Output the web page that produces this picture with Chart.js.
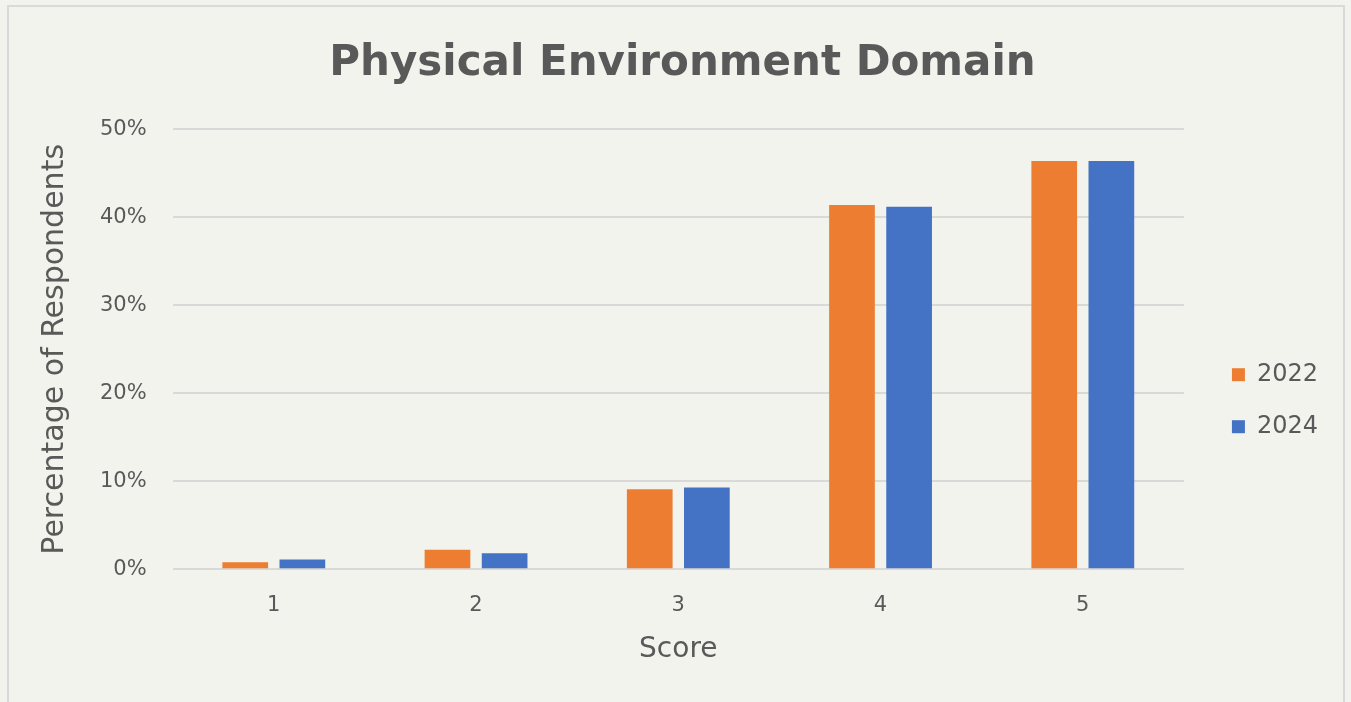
<!DOCTYPE html>
<html>
<head>
<meta charset="utf-8">
<script src="https://cdn.jsdelivr.net/npm/chart.js@4/dist/chart.umd.min.js"></script>
<style>
  html, body { margin: 0; padding: 0; background: #f3f3ee; }
  #frame { position: absolute; left: 7px; top: 5px; width: 1334px; height: 720px; border: 2px solid #d9d9d9; }
  #wrap { position: absolute; left: 0; top: 0; width: 1351px; height: 702px; }
</style>
</head>
<body>
<div id="frame"></div>
<div id="wrap"><canvas id="myChart"></canvas></div>
<script>
const scores = ['1', '2', '3', '4', '5'];
const pct2022 = [0.8, 2.2, 9.1, 41.4, 46.4];
const pct2024 = [1.1, 1.8, 9.3, 41.2, 46.4];
const seriesNames = ['2022', '2024'];

const grey = '#595959';
const font = '"DejaVu Sans", sans-serif';

new Chart('myChart', {
  type: 'bar',
  data: {
    labels: scores,
    datasets: [{
      label: seriesNames[0],
      data: pct2022,
      backgroundColor: '#ed7d31'
    }, {
      label: seriesNames[1],
      data: pct2024,
      backgroundColor: '#4472c4'
    }]
  },
  options: {
    responsive: true,
    maintainAspectRatio: false,
    animation: false,
    categoryPercentage: 0.565,
    barPercentage: 0.8,
    layout: { padding: { left: 37, right: 23, top: 0, bottom: 35 } },
    plugins: {
      title: {
        display: true,
        text: 'Physical Environment Domain',
        color: grey,
        font: { family: font, size: 42, weight: 'bold' },
        padding: { top: 39, bottom: 40 }
      },
      legend: {
        position: 'right',
        // empty title just pushes the legend items down a bit
        title: { display: true, text: '', font: { size: 12 }, padding: { top: 0, bottom: 120 } },
        labels: {
          color: grey,
          boxWidth: 13,
          boxHeight: 13,
          padding: 28,
          font: { family: font, size: 24, lineHeight: 1 }
        }
      },
      tooltip: { enabled: false }
    },
    scales: {
      x: {
        grid: { display: false, drawTicks: false },
        border: { display: false },
        ticks: { color: grey, padding: 24, font: { family: font, size: 21 } },
        title: {
          display: true,
          text: 'Score',
          color: grey,
          padding: { top: -9, bottom: 0 },
          font: { family: font, size: 28 }
        }
      },
      y: {
        min: 0,
        max: 50,
        ticks: {
          stepSize: 10,
          color: grey,
          padding: 26,
          font: { family: font, size: 21 },
          callback: v => v + '%'
        },
        grid: { color: '#d9d9d9', lineWidth: 2, drawTicks: false },
        border: { display: false },
        title: {
          display: true,
          text: 'Percentage of Respondents',
          color: grey,
          padding: { top: 0, bottom: 1 },
          font: { family: font, size: 30 }
        }
      },
      spacer: {
        position: 'right',
        display: true,
        ticks: { display: false },
        grid: { display: false },
        border: { display: false },
        afterFit: s => { s.width = 20; }
      }
    }
  }
});
</script>
</body>
</html>
